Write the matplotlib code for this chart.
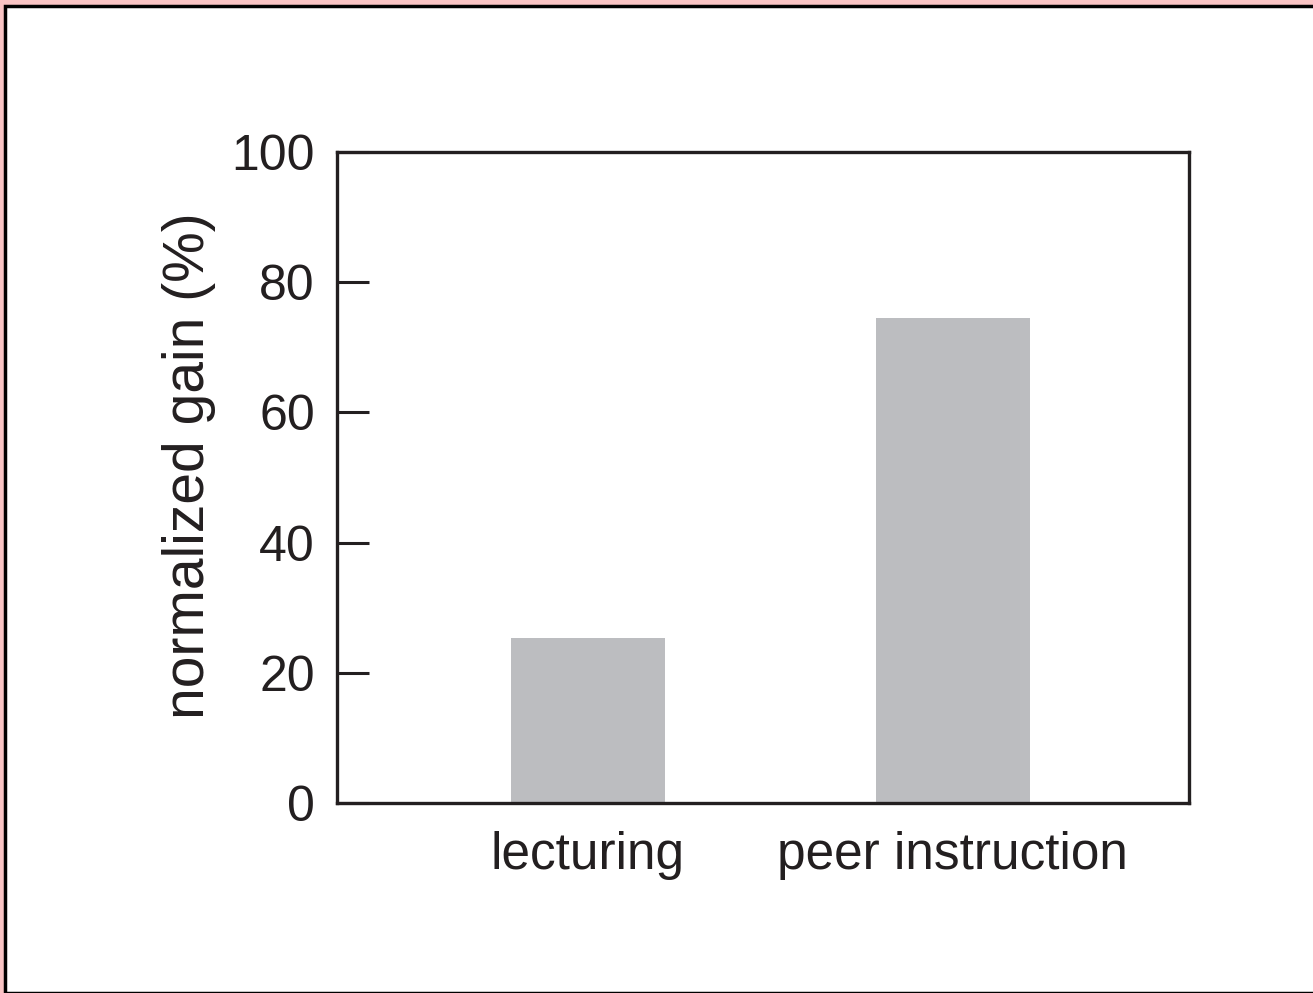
import matplotlib.pyplot as plt
from matplotlib.patches import Rectangle

# data
categories = ['lecturing', 'peer instruction']
gain = [25.3, 74.5]
y_ticks = [0, 20, 40, 60, 80, 100]

W, H = 1313, 993
fig = plt.figure(figsize=(W / 100, H / 100), dpi=100)
fig.patch.set_facecolor('#f9c4c4')

plt.rcParams['font.family'] = ['Liberation Sans', 'DejaVu Sans']
ink = '#231f20'

# white panel with a black frame (page crop)
panel = Rectangle((5 / W, 0), 1.0, 1 - 6 / H, transform=fig.transFigure,
                  facecolor='white', edgecolor='black', linewidth=2.5, zorder=-5)
fig.patches.append(panel)

ax = fig.add_axes([337 / W, 1 - 803 / H, (1189 - 337) / W, (803 - 152) / H])
ax.set_zorder(1)
x = list(range(len(categories)))
ax.bar(x, gain, width=0.422, color='#bcbdc0', edgecolor='none')

ax.set_xlim(-0.6877, 1.647)
ax.set_ylim(0, 100)
ax.set_yticks(y_ticks)
ax.set_yticklabels([str(t) for t in y_ticks], va='center_baseline')
ax.set_xticks(x)
ax.set_xticklabels(categories)

ax.tick_params(axis='y', direction='in', length=23, width=2.2, color=ink,
               labelsize=36, labelcolor=ink, pad=16)
ax.tick_params(axis='x', length=0, labelsize=37, labelcolor=ink, pad=20)
for s in ax.spines.values():
    s.set_linewidth(2.4)
    s.set_color(ink)

ax.set_ylabel('normalized gain (%)', fontsize=41, color=ink)
ax.yaxis.set_label_coords(-0.142, 0.518)

fig.savefig('out.png', dpi=100)
